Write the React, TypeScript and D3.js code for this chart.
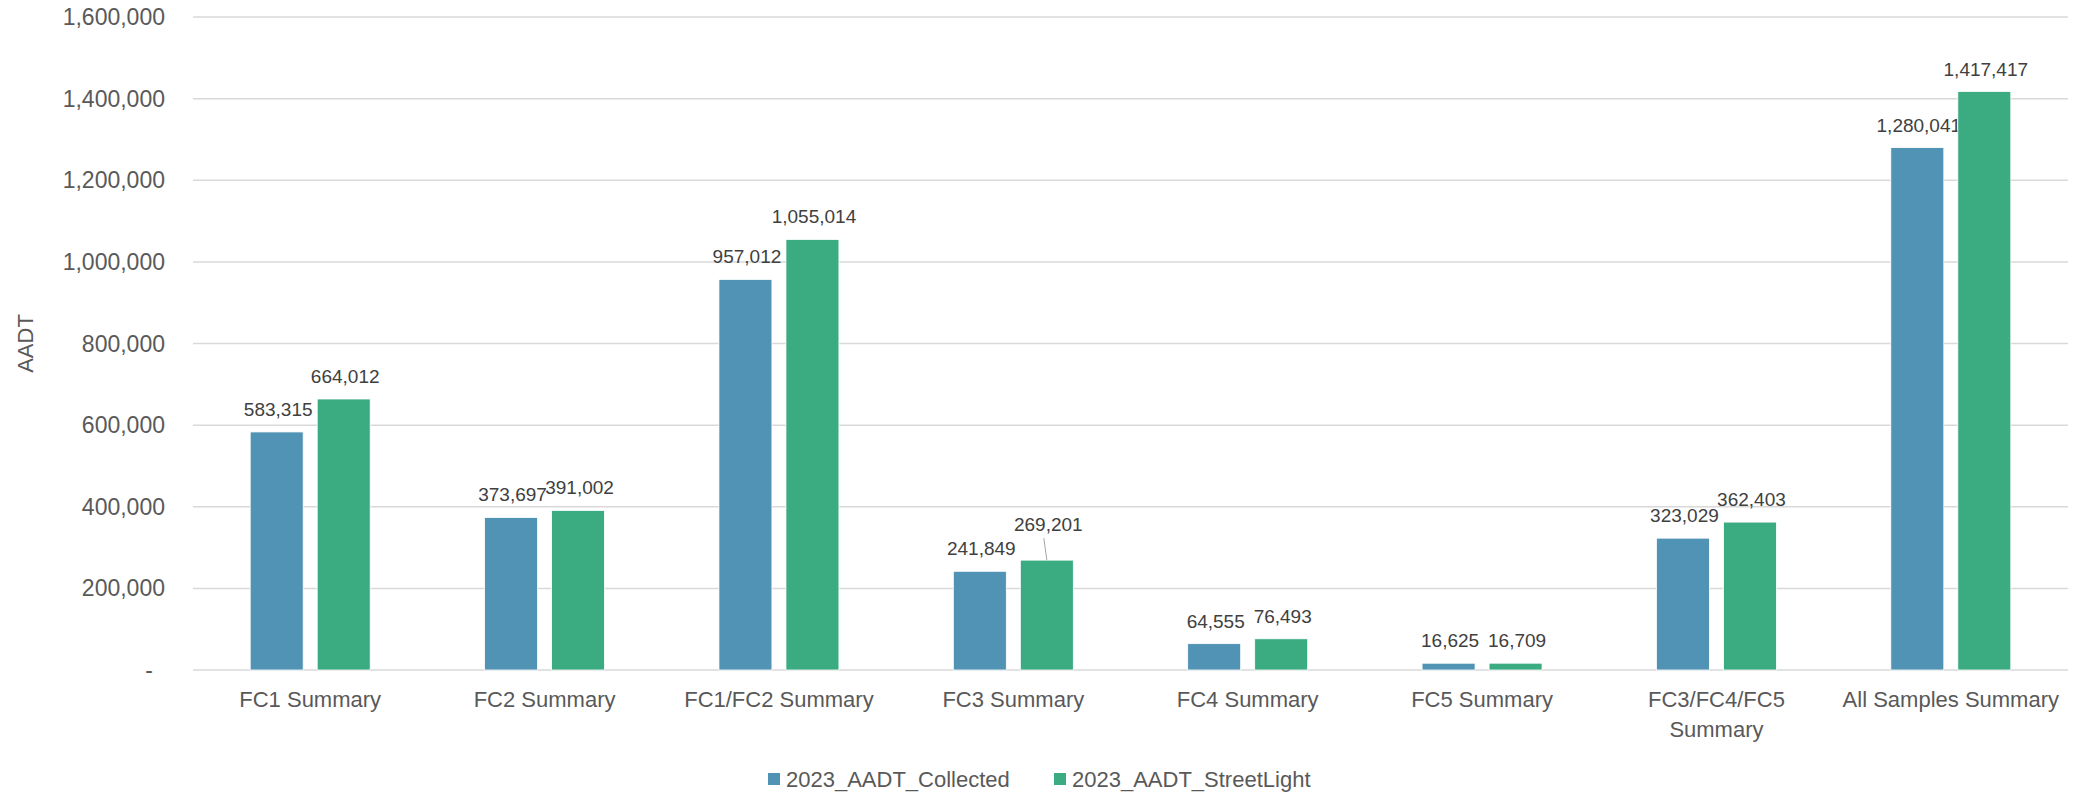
import React, { useRef, useEffect } from "react";
import * as d3 from "d3";

const categories = [
  "FC1 Summary",
  "FC2 Summary",
  "FC1/FC2 Summary",
  "FC3 Summary",
  "FC4 Summary",
  "FC5 Summary",
  "FC3/FC4/FC5 Summary",
  "All Samples Summary",
];
const collected = [583315, 373697, 957012, 241849, 64555, 16625, 323029, 1280041];
const streetLight = [664012, 391002, 1055014, 269201, 76493, 16709, 362403, 1417417];
const seriesNames = ["2023_AADT_Collected", "2023_AADT_StreetLight"];
const yTicks = [0, 200000, 400000, 600000, 800000, 1000000, 1200000, 1400000, 1600000];

const COLORS = ["#5193B5", "#3BAB82"];
const FONT = "'Liberation Sans', Arial, sans-serif";

function App() {
  const svgRef = useRef<SVGSVGElement>(null);

  useEffect(() => {
    document.body.style.margin = "0";
    const svg = d3.select(svgRef.current);
    svg.selectAll("*").remove();

    const width = 2080;
    const height = 793;
    const margin = { top: 17, right: 12, bottom: 123, left: 193 };
    const plotRight = width - margin.right;
    const plotBottom = height - margin.bottom;

    const x0 = d3
      .scaleBand()
      .domain(categories)
      .range([margin.left, plotRight])
      .paddingInner(0)
      .paddingOuter(0);
    const groupW = 120;
    const x1 = d3
      .scaleBand()
      .domain(seriesNames)
      .range([0, groupW])
      .paddingInner(0.209);
    const y = d3.scaleLinear().domain([0, 1600000]).range([plotBottom, margin.top]);

    // gridlines
    svg
      .append("g")
      .selectAll("line")
      .data(yTicks)
      .enter()
      .append("line")
      .attr("x1", margin.left)
      .attr("x2", plotRight)
      .attr("y1", (d) => y(d))
      .attr("y2", (d) => y(d))
      .attr("stroke", "#D9D9D9")
      .attr("stroke-width", 1.5);

    // y tick labels
    svg
      .append("g")
      .selectAll("text")
      .data(yTicks)
      .enter()
      .append("text")
      .attr("x", (d) => (d === 0 ? 153 : 165))
      .attr("y", (d) => y(d))
      .attr("dy", "0.35em")
      .attr("text-anchor", "end")
      .attr("fill", "#595959")
      .style("font-family", FONT)
      .style("font-size", "23px")
      .text((d) => (d === 0 ? "-" : d3.format(",")(d)));

    // y axis title
    svg
      .append("text")
      .attr("transform", `translate(33, ${y(800000)}) rotate(-90)`)
      .attr("text-anchor", "middle")
      .attr("fill", "#595959")
      .style("font-family", FONT)
      .style("font-size", "22px")
      .text("AADT");

    const rows = categories.map((c, i) => ({
      cat: c,
      i,
      values: [collected[i], streetLight[i]],
    }));

    const groupOffset = (x0.bandwidth() - groupW) / 2;

    // one label (FC3 StreetLight) was dragged up in Excel, with a leader line
    const nudge = (s: number, i: number) => (s === 1 && i === 3 ? 13 : 0);

    rows.forEach((row) => {
      const g = svg
        .append("g")
        .attr("transform", `translate(${(x0(row.cat) || 0) + groupOffset}, 0)`);
      row.values.forEach((v, s) => {
        const bx = x1(seriesNames[s]) || 0;
        const bw = x1.bandwidth();
        g.append("rect")
          .attr("x", bx)
          .attr("y", y(v))
          .attr("width", bw)
          .attr("height", plotBottom - y(v))
          .attr("fill", COLORS[s])
          .attr("stroke", "#ffffff")
          .attr("stroke-width", 0.8);

        const extra = nudge(s, row.i);
        const ly = y(v) - 16 - extra;
        if (extra > 0) {
          g.append("line")
            .attr("x1", bx + bw / 2 - 3)
            .attr("y1", ly + 7)
            .attr("x2", bx + bw / 2)
            .attr("y2", y(v))
            .attr("stroke", "#A6A6A6")
            .attr("stroke-width", 1);
        }
        g.append("text")
          .attr("x", bx + bw / 2 + 1.5)
          .attr("y", ly)
          .attr("text-anchor", "middle")
          .attr("fill", "#404040")
          .style("font-family", FONT)
          .style("font-size", "19px")
          .text(d3.format(",")(v));
      });
    });

    // category labels (wrap the long one)
    rows.forEach((row) => {
      const cx = (x0(row.cat) || 0) + x0.bandwidth() / 2;
      const lines =
        row.cat === "FC3/FC4/FC5 Summary" ? ["FC3/FC4/FC5", "Summary"] : [row.cat];
      const t = svg
        .append("text")
        .attr("text-anchor", "middle")
        .attr("fill", "#595959")
        .style("font-family", FONT)
        .style("font-size", "22px");
      lines.forEach((ln, k) => {
        t.append("tspan")
          .attr("x", cx)
          .attr("y", plotBottom + 37 + k * 30)
          .text(ln);
      });
    });

    // legend
    const legendItems = [
      { name: seriesNames[0], x: 768 },
      { name: seriesNames[1], x: 1054 },
    ];
    const legend = svg.append("g");
    legendItems.forEach((it, k) => {
      legend
        .append("rect")
        .attr("x", it.x)
        .attr("y", 773)
        .attr("width", 12)
        .attr("height", 12)
        .attr("fill", COLORS[k]);
      legend
        .append("text")
        .attr("x", it.x + 18)
        .attr("y", 787)
        .attr("fill", "#595959")
        .style("font-family", FONT)
        .style("font-size", "22px")
        .text(it.name);
    });
  }, []);

  return <svg ref={svgRef} width={2080} height={793} style={{ display: "block" }}></svg>;
}

export default App;
